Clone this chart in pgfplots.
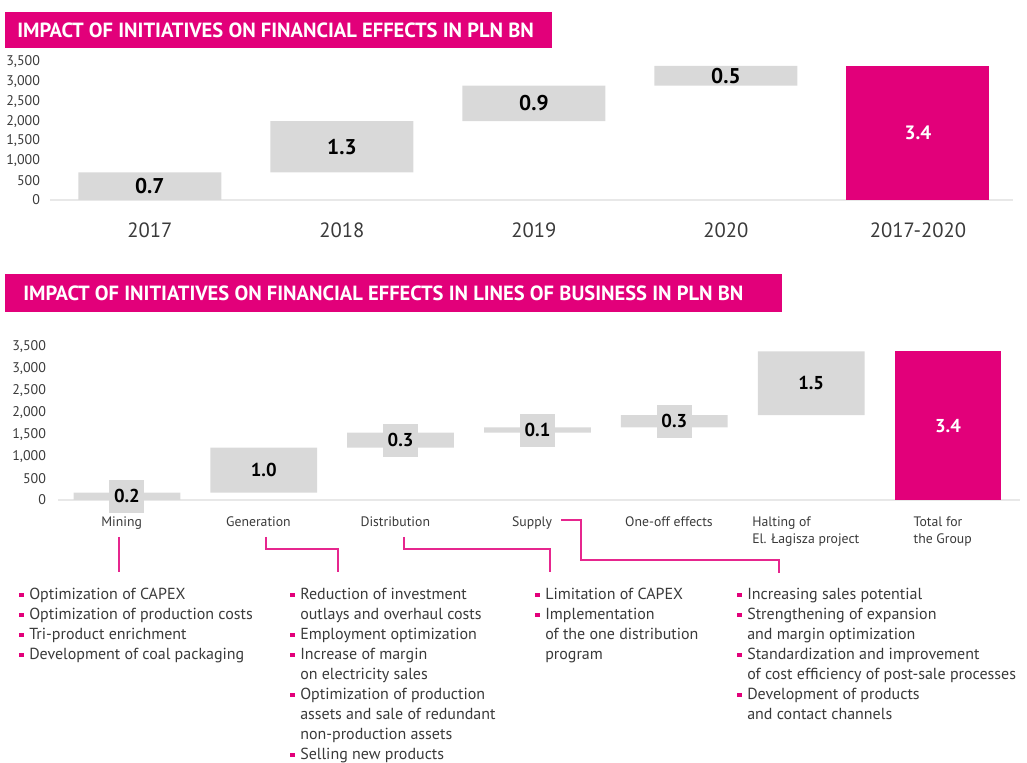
\documentclass[border=0pt]{standalone}
\usepackage{fontspec}
\setmainfont{PT Sans}
\usepackage{pgfplots}
\pgfplotsset{compat=1.18}

\definecolor{pge}{HTML}{E2007A}
\definecolor{bargray}{HTML}{D9D9D9}
\definecolor{txt}{HTML}{3A3A3A}
\definecolor{base}{HTML}{E8E8E8}

% small magenta square bullet and hanging indent
\newcommand{\bul}{\makebox[7.5pt][l]{\textcolor{pge}{\rule[0.17em]{3.2pt}{3.2pt}}}}
\newcommand{\ind}{\hspace*{7.5pt}}

\pgfplotsset{
  wf/.style={
    scale only axis, enlargelimits=false, clip=false,
    ybar stacked,
    axis x line*=bottom, axis y line*=left,
    x axis line style={draw=base, line width=0.9pt},
    y axis line style={draw=none},
    major tick length=0pt,
    ytick={0,500,...,3500},
    /pgf/number format/1000 sep={,},
    /pgf/number format/assume math mode=true,
  },
  lbl/.style={
    scale only axis, enlargelimits=false, clip=false, hide axis,
  },
}

\begin{document}
\begin{tikzpicture}

\begin{scope}[x=0.75pt,y=0.75pt]
\useasboundingbox (0,0) rectangle (1027,760);
% title banners
\fill[pge] (5,712) rectangle (552,748);
\node[anchor=west, inner sep=0pt, text=white, font=\bfseries\fontsize{15.4}{18}\selectfont] at (17,730)
  {IMPACT OF INITIATIVES ON FINANCIAL EFFECTS IN PLN BN};
\fill[pge] (5,448) rectangle (782,486);
\node[anchor=west, inner sep=0pt, text=white, font=\bfseries\fontsize{15.4}{18}\selectfont] at (23,467)
  {IMPACT OF INITIATIVES ON FINANCIAL EFFECTS IN LINES OF BUSINESS IN PLN BN};
\end{scope}

% ---- top chart: yearly effects ----
\begin{axis}[wf,
  at={(37.5pt,420pt)}, anchor=south west,
  width=722.25pt, height=103.5pt,
  xmin=-0.52, xmax=4.495, ymin=0, ymax=3500,
  bar width=0.745,
  xtick={0,...,4},
  xticklabels={2017,2018,2019,2020,2017-2020},
  yticklabel style={font=\fontsize{10.5}{12}\selectfont, text=txt, xshift=-4pt},
  xticklabel style={font=\fontsize{15.5}{18}\selectfont, text=txt, yshift=-13.3pt},
]
\addplot[draw=none, fill=none] coordinates {(0,0) (1,700) (2,2000) (3,2900) (4,0)};
\addplot[draw=none, fill=bargray] coordinates {(0,700) (1,1300) (2,900) (3,500) (4,0)};
\addplot[draw=none, fill=pge] coordinates {(0,0) (1,0) (2,0) (3,0) (4,3400)};
\end{axis}

\begin{axis}[lbl,
  at={(37.5pt,420pt)}, anchor=south west,
  width=722.25pt, height=103.5pt,
  xmin=-0.52, xmax=4.495, ymin=0, ymax=3500,
]
\addplot[only marks, mark=*, mark size=0pt, mark options={draw=none, fill=none},
  point meta=explicit symbolic, nodes near coords,
  every node near coord/.style={anchor=center, text=black, font=\bfseries\fontsize{16}{18}\selectfont}]
  coordinates {(0,350)[0.7] (1,1350)[1.3] (2,2450)[0.9] (3,3150)[0.5]};
\addplot[only marks, mark=*, mark size=0pt, mark options={draw=none, fill=none},
  point meta=explicit symbolic, nodes near coords,
  every node near coord/.style={anchor=center, text=white, font=\bfseries\fontsize{14.5}{16}\selectfont}]
  coordinates {(4,1700)[3.4]};
\end{axis}

% ---- bottom chart: lines of business ----
\begin{axis}[wf,
  at={(43.5pt,195pt)}, anchor=south west,
  width=721.5pt, height=114.75pt,
  xmin=-0.5036, xmax=6.526, ymin=0, ymax=3500,
  bar width=0.78,
  xtick={0,...,6},
  xticklabels={Mining, Generation, Distribution, Supply, One-off effects,
    {Halting of\\El. Łagisza project}, {Total for\\the Group}},
  yticklabel style={font=\fontsize{10.5}{12}\selectfont, text=txt, xshift=-5.5pt},
  xticklabel style={font=\fontsize{10.3}{12.5}\selectfont, text=txt, align=left, yshift=-9pt, xshift=-4pt},
]
\addplot[draw=none, fill=none] coordinates {(0,0) (1,170) (2,1200) (3,1540) (4,1660) (5,1940) (6,0)};
\addplot[draw=none, fill=bargray] coordinates {(0,170) (1,1030) (2,340) (3,120) (4,280) (5,1460) (6,0)};
\addplot[draw=none, fill=pge] coordinates {(0,0) (1,0) (2,0) (3,0) (4,0) (5,0) (6,3400)};
\end{axis}

\begin{axis}[lbl,
  at={(43.5pt,195pt)}, anchor=south west,
  width=721.5pt, height=114.75pt,
  xmin=-0.5036, xmax=6.526, ymin=0, ymax=3500,
]
\addplot[only marks, mark=*, mark size=0pt, mark options={draw=none, fill=none},
  point meta=explicit symbolic, nodes near coords,
  every node near coord/.style={anchor=center, fill=bargray, inner sep=0pt,
    minimum width=26.25pt, minimum height=24.75pt, text=black,
    font=\bfseries\fontsize{14}{16}\selectfont}]
  coordinates {(0,85)[0.2] (1,685)[1.0] (2,1370)[0.3] (3,1600)[0.1] (4,1800)[0.3] (5,2670)[1.5]};
\addplot[only marks, mark=*, mark size=0pt, mark options={draw=none, fill=none},
  point meta=explicit symbolic, nodes near coords,
  every node near coord/.style={anchor=center, text=white, font=\bfseries\fontsize{14}{16}\selectfont}]
  coordinates {(6,1700)[3.4]};
\end{axis}

\begin{scope}[x=0.75pt,y=0.75pt]
% connectors
\begin{scope}[draw=pge!85, line width=1.1pt]
\draw (119,223) -- (119,188);
\draw (266,223) -- (266,211) -- (338,211) -- (338,188);
\draw (404,223) -- (404,211) -- (550,211) -- (550,188);
\draw (561,240) -- (581,240) -- (581,200) -- (779,200) -- (779,187);
\end{scope}
% bullet lists
\begin{scope}[every node/.style={anchor=north west, inner sep=0pt, align=left, text=txt,
    font=\fontsize{12}{15}\selectfont}]
\node at (19,172) {\bul Optimization of CAPEX\\
  \bul Optimization of production costs\\
  \bul Tri-product enrichment\\
  \bul Development of coal packaging};
\node at (290,172) {\bul Reduction of investment\\
  \ind outlays and overhaul costs\\
  \bul Employment optimization\\
  \bul Increase of margin\\
  \ind on electricity sales\\
  \bul Optimization of production\\
  \ind assets and sale of redundant\\
  \ind non-production assets\\
  \bul Selling new products};
\node at (535,172) {\bul Limitation of CAPEX\\
  \bul Implementation\\
  \ind of the one distribution\\
  \ind program};
\node at (737,172) {\bul Increasing sales potential\\
  \bul Strengthening of expansion\\
  \ind and margin optimization\\
  \bul Standardization and improvement\\
  \ind of cost efficiency of post-sale processes\\
  \bul Development of products\\
  \ind and contact channels};
\end{scope}
\end{scope}

\end{tikzpicture}
\end{document}
